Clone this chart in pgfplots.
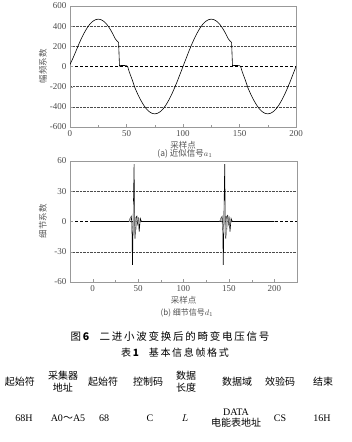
\documentclass[border=0pt]{standalone}
\usepackage{pgfplots}
\pgfplotsset{compat=1.18}
\usepackage{fontspec}
\setmainfont{Liberation Serif}
\newfontfamily\cjk{Noto Sans CJK SC}
\begin{document}
\begin{tikzpicture}[x=1pt,y=1pt]
\path[use as bounding box] (0pt,0pt) rectangle (351pt,442pt);
\pgfplotsset{
  myax/.style={
    scale only axis,
    axis line style={gray!80},
    tick style={gray!80},
    tick align=inside,
    major tick length=3pt,
    minor tick length=1.6pt,
    xtick pos=lower, ytick pos=left,
    tick label style={font=\fontsize{9}{10}\selectfont, text=black!70},
    /pgf/number format/assume math mode=true,
    ymajorgrids,
    grid style={densely dotted, black!70},
    label style={font=\cjk\fontsize{8.5}{9}\selectfont, text=black!65},
  }
}
% ---------- plot (a) ----------
\begin{axis}[myax,
  at={(70pt,315pt)}, anchor=south west,
  width=226pt, height=121pt,
  xmin=0, xmax=200, ymin=-600, ymax=600,
  xtick={0,50,100,150,200},
  ytick={-600,-400,-200,200,400,600},
  extra y ticks={0},
  extra y tick style={grid style={densely dashed, black}},
  minor x tick num=1, minor y tick num=1,
  xlabel={采样点},
  xlabel style={at={(rel axis cs:0.5,0)}, anchor=north, yshift=-11pt},
  ylabel={幅频系数},
  ylabel style={at={(rel axis cs:0,0.5)}, anchor=center, xshift=0pt, yshift=27pt},
]
\addplot[black, line width=0.6pt] coordinates {
(0,20) (2.5,80) (5,145) (7.5,213) (10,276) (12.5,332) (15,380) (17.5,419)
(20,447) (22.5,464) (25,470) (27.5,464) (30,447) (32.5,419) (35,380)
(37.5,332) (40,276) (42,248) (43,240) (43.8,5) (45,10) (48,10) (50,8)
(51,0) (52.5,-55) (55,-130) (57.5,-213) (60,-276) (62.5,-332) (65,-380)
(67.5,-419) (70,-447) (72.5,-464) (75,-470) (77.5,-464) (80,-447)
(82.5,-419) (85,-380) (87.5,-332) (90,-276) (92.5,-213) (95,-145)
(97.5,-73) (100,0)
(102.5,73) (105,145) (107.5,213) (110,276) (112.5,332) (115,380) (117.5,419)
(120,447) (122.5,464) (125,470) (127.5,464) (130,447) (132.5,419) (135,380)
(137.5,332) (140,276) (142,248) (143,240) (143.8,5) (145,10) (148,10) (150,8)
(151,0) (152.5,-55) (155,-130) (157.5,-213) (160,-276) (162.5,-332) (165,-380)
(167.5,-419) (170,-447) (172.5,-464) (175,-470) (177.5,-464) (180,-447)
(182.5,-419) (185,-380) (187.5,-332) (190,-276) (192.5,-213) (195,-145)
(197.5,-73) (200,0)
};
\end{axis}
\node[font=\cjk\fontsize{8.5}{9}\selectfont, text=black!70] at (185pt,288pt) {(a) 近似信号$a_1$};
% ---------- plot (b) ----------
\begin{axis}[myax,
  at={(70pt,160pt)}, anchor=south west,
  width=227pt, height=121pt,
  xmin=-25, xmax=225, ymin=-60, ymax=60,
  xtick={0,50,100,150,200},
  ytick={-60,-30,30,60},
  extra y ticks={0},
  extra y tick style={grid style={densely dashed, black}},
  minor x tick num=1,
  xlabel={采样点},
  xlabel style={at={(rel axis cs:0.5,0)}, anchor=north, yshift=-11pt},
  ylabel={细节系数},
  ylabel style={at={(rel axis cs:0,0.5)}, anchor=center, xshift=0pt, yshift=27pt},
]
\addplot[black, line width=0.6pt] coordinates {
(0,0) (40,0) (41.2,3) (42.5,5) (43.2,-3) (43.8,-43) (45.6,57) (46,-2)
(46.6,-17) (47.6,4) (48.4,5) (49.4,-2) (50.2,4) (51.2,-10) (52.4,3) (53.2,1) (54,0)
(140,0) (141.2,3) (142.5,5) (143.2,-3) (143.8,-43) (145.4,57) (146,-2)
(146.6,-17) (147.6,5) (148.4,6) (149.4,-2) (150.2,5) (151.2,-10) (152.4,3) (153.2,1) (154,0)
(200,0)
};
\addplot[gray!70, line width=0.5pt] coordinates {
(40,0) (41.5,4) (42.6,-2) (44.4,-12) (45,20) (46.4,-14) (47.3,3) (48,-8) (49,6) (50.3,-3) (51,2) (52,-1) (53,0)
};
\addplot[gray!70, line width=0.5pt] coordinates {
(140,0) (141.5,4) (142.6,-2) (144.4,-12) (145,20) (146.4,-14) (147.3,3) (148,-8) (149,6) (150.3,-3) (151,2) (152,-1) (153,0)
};
\end{axis}
\node[font=\cjk\fontsize{8}{9}\selectfont, text=black!70] at (187pt,129pt) {(b) 细节信号$d_1$};
% ---------- caption and table ----------
\node[font=\cjk\fontsize{10.5}{12}\selectfont] at (170pt,106pt) {图\,\textbf{6}\quad 二\,进\,小\,波\,变\,换\,后\,的\,畸\,变\,电\,压\,信\,号};
\node[font=\cjk\fontsize{10}{12}\selectfont] at (175pt,89pt) {表\,\textbf{1}\quad 基\,本\,信\,息\,帧\,格\,式};
\begin{scope}[every node/.style={font=\cjk\fontsize{10}{12}\selectfont, align=center}]
\node at (20pt,60pt) {起始符};
\node at (63pt,60pt) {采集器\\地址};
\node at (103pt,60pt) {起始符};
\node at (148pt,60pt) {控制码};
\node at (186pt,60pt) {数据\\长度};
\node at (237pt,60pt) {数据域};
\node at (280pt,60pt) {效验码};
\node at (323pt,60pt) {结束};
\end{scope}
\begin{scope}[every node/.style={font=\fontsize{10}{11.5}\selectfont, align=center}]
\node at (24pt,24pt) {68H};
\node at (68pt,24pt) {A0{\cjk ～}A5};
\node at (104pt,24pt) {68};
\node at (150pt,24pt) {C};
\node at (185pt,24pt) {$L$};
\node at (236pt,24pt) {DATA\\{\cjk\fontsize{10}{11.5}\selectfont 电能表地址}};
\node at (280pt,24pt) {CS};
\node at (322pt,24pt) {16H};
\end{scope}
\end{tikzpicture}
\end{document}
